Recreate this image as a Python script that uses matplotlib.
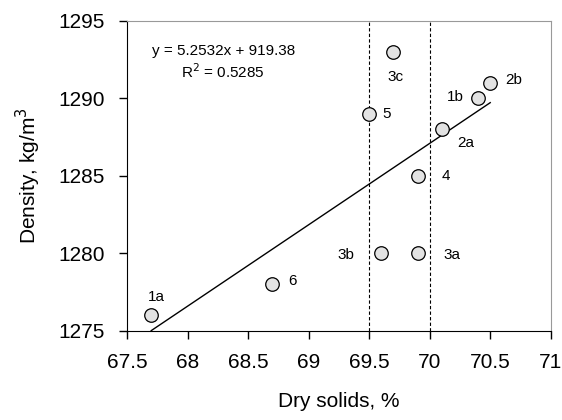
import numpy as np
import matplotlib.pyplot as plt

plt.rcParams['font.family'] = ['Liberation Sans', 'DejaVu Sans']

# sample labels, dry solids (%) and density (kg/m3)
labels = ['1a', '6', '3b', '3a', '4', '5', '2a', '1b', '2b', '3c']
dry_solids = np.array([67.7, 68.7, 69.6, 69.9, 69.9, 69.5, 70.1, 70.4, 70.5, 69.7])
density = np.array([1276, 1278, 1280, 1280, 1285, 1289, 1288, 1290, 1291, 1293])

# label positions next to the points
label_x = [67.745, 68.87, 69.31, 70.18, 70.13, 69.64, 70.30, 70.21, 70.69, 69.72]
label_y = [1277.2, 1278.25, 1279.9, 1279.9, 1285.0, 1289.0, 1287.1, 1290.1, 1291.2, 1291.4]

slope = 5.2532
intercept = 919.38
r2 = 0.5285

vlines = [69.5, 70.0]

fig = plt.figure(figsize=(5.62, 4.2), dpi=100)
ax = fig.add_axes([0.226, 0.212, 0.754, 0.738])

for xv in vlines:
    ax.axvline(xv, color='black', lw=0.8, linestyle=(0, (3, 2)), zorder=1)

fit_x = np.array([dry_solids.min(), dry_solids.max()])
ax.plot(fit_x, slope * fit_x + intercept, color='black', lw=1, zorder=2)

ax.scatter(dry_solids, density, s=95, facecolor='#e3e3e3', edgecolor='black',
           linewidth=0.9, zorder=3)

for lab, lx, ly in zip(labels, label_x, label_y):
    ax.text(lx, ly, lab, fontsize=11, ha='center', va='center')

ax.text(0.229, 0.904, 'y = %.4fx + %.2f' % (slope, intercept), transform=ax.transAxes,
        fontsize=11, ha='center', va='center')
ax.text(0.226, 0.836, 'R$^2$ = %.4f' % r2, transform=ax.transAxes,
        fontsize=11, ha='center', va='center')

ax.set_xlim(67.5, 71)
ax.set_ylim(1275, 1295)
ax.set_xticks(np.arange(67.5, 71.01, 0.5))
ax.set_xticklabels(['67.5', '68', '68.5', '69', '69.5', '70', '70.5', '71'])
ax.set_yticks(np.arange(1275, 1296, 5))

ax.tick_params(axis='both', direction='out', length=6, width=1, labelsize=15)
ax.tick_params(axis='x', pad=10)
ax.tick_params(axis='y', pad=10)

ax.spines['top'].set_color('#999999')
ax.spines['right'].set_color('#999999')
ax.spines['top'].set_linewidth(0.8)
ax.spines['right'].set_linewidth(0.8)

ax.set_xlabel('Dry solids, %', fontsize=15, labelpad=14)
ax.set_ylabel('Density, kg/m$^3$', fontsize=15, labelpad=11)

fig.savefig('out.png', dpi=100)
